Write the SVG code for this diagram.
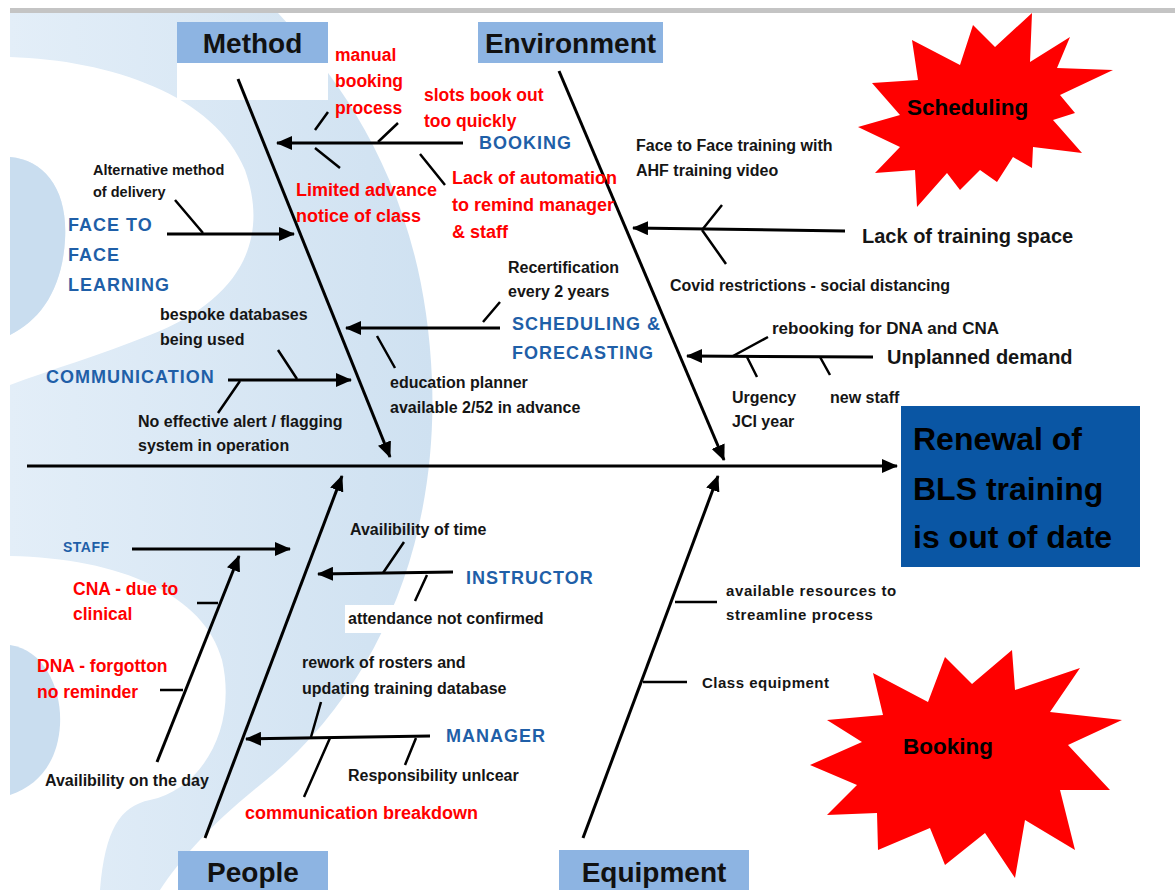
<svg xmlns="http://www.w3.org/2000/svg" width="1175" height="890" viewBox="0 0 1175 890">
<defs>
<style>
text{font-family:"Liberation Sans",Arial,sans-serif;font-weight:bold}
.cat{font-size:28px;fill:#111;text-anchor:middle}
.catbox{fill:#8db4e2}
.red{font-size:17.5px;fill:#ff0000}
.blue{font-size:18px;fill:#1f5fa8;letter-spacing:1px}
.blk{font-size:16px;fill:#151515}
.big{font-size:20px;fill:#151515}
.ln{stroke:#000;stroke-width:3;fill:none}
.tk{stroke:#000;stroke-width:2.5;fill:none}
.star{fill:#ff0000}
</style>
<linearGradient id="bg" gradientUnits="userSpaceOnUse" x1="10" y1="0" x2="432" y2="0">
<stop offset="0" stop-color="#e3eef8"/>
<stop offset="1" stop-color="#cfe1f1"/>
</linearGradient>
<marker id="ah" viewBox="0 0 16 14" refX="15" refY="7" markerWidth="16" markerHeight="14" orient="auto" markerUnits="userSpaceOnUse">
<path d="M0,0 L16,7 L0,14 Z" fill="#000"/>
</marker>
</defs>
<rect width="1175" height="890" fill="#fff"/>
<g id="background">
<rect x="10" y="8" width="1165" height="5" fill="#c4c4c4"/>
<path d="M10,13 H278 C350,90 425,200 432,380 C438,540 380,690 260,785 C210,825 180,860 160,890 H10 Z" fill="url(#bg)"/>
<path d="M10,57 C110,60 215,95 245,170 C270,240 240,300 150,335 C100,355 50,370 10,385 L10,335 C40,320 62,290 65,240 C68,190 45,160 10,157 Z" fill="#fff"/>
<path d="M10,157 C45,160 68,190 65,240 C62,290 40,320 10,335 Z" fill="#c9ddef"/>
<path d="M10,556 C120,558 205,595 222,660 C238,730 200,790 150,800 C120,806 105,830 100,890 L10,890 Z" fill="#fff"/>
<path d="M10,645 C45,650 62,690 60,725 C58,760 40,785 10,795 Z" fill="#c9ddef"/>
<rect x="177" y="63" width="151" height="37" fill="#fff"/>
<rect x="345" y="605" width="205" height="28" fill="#fff"/>
</g>
<g id="connectors">
<line class="ln" x1="27" y1="466" x2="897" y2="466" marker-end="url(#ah)"/>
<line class="ln" x1="238" y1="79" x2="390" y2="457" marker-end="url(#ah)"/>
<line class="ln" x1="559" y1="71" x2="724" y2="460" marker-end="url(#ah)"/>
<line class="ln" x1="205" y1="838" x2="342" y2="476" marker-end="url(#ah)"/>
<line class="ln" x1="583" y1="838" x2="718" y2="476" marker-end="url(#ah)"/>
<line class="ln" x1="463" y1="143" x2="277" y2="143" marker-end="url(#ah)"/>
<line class="ln" x1="167" y1="234" x2="294" y2="234" marker-end="url(#ah)"/>
<line class="ln" x1="500" y1="328" x2="346" y2="328" marker-end="url(#ah)"/>
<line class="ln" x1="228" y1="380" x2="351" y2="380" marker-end="url(#ah)"/>
<line class="ln" x1="845" y1="231" x2="633" y2="228" marker-end="url(#ah)"/>
<line class="ln" x1="873" y1="357" x2="687" y2="356" marker-end="url(#ah)"/>
<line class="ln" x1="132" y1="549" x2="290" y2="549" marker-end="url(#ah)"/>
<line class="ln" x1="157" y1="762" x2="239" y2="556" marker-end="url(#ah)"/>
<line class="ln" x1="453" y1="572" x2="318" y2="574" marker-end="url(#ah)"/>
<line class="ln" x1="430" y1="736" x2="246" y2="739" marker-end="url(#ah)"/>
<path class="tk" d="M315,130 L328,112 M315,148 L340,168 M378,142 L398,123 M420,154 L445,185 M175,200 L203,233 M483,322 L500,302 M377,336 L395,368 M278,350 L297,379 M240,381 L218,413 M702,230 L722,205 M702,230 L726,264 M733,356 L768,337 M747,357 L757,377 M820,357 L830,375 M197,603 L218,603 M160,690 L183,690 M383,573 L404,542 M427,575 L415,601 M311,737 L321,702 M330,738 L304,797 M416,738 L405,765 M675,602 L717,602 M643,682 L687,682"/>
</g>
<g id="cat-method"><rect class="catbox" x="177" y="22" width="151" height="41"/><text class="cat" x="252.5" y="53">Method</text></g>
<g id="cat-environment"><rect class="catbox" x="478" y="22" width="185" height="41"/><text class="cat" x="570.5" y="53">Environment</text></g>
<g id="cat-people"><rect class="catbox" x="178" y="851" width="150" height="39"/><text class="cat" x="253" y="882">People</text></g>
<g id="cat-equipment"><rect class="catbox" x="559" y="850" width="190" height="40"/><text class="cat" x="654" y="882">Equipment</text></g>
<g id="effect"><rect x="901" y="406" width="239" height="161" fill="#0a56a4"/>
<text x="913" y="450" font-size="32" fill="#000">Renewal of</text>
<text x="913" y="500" font-size="32" fill="#000">BLS training</text>
<text x="913" y="548" font-size="32" fill="#000">is out of date</text></g>
<g id="star-scheduling"><polygon class="star" points="912,40 960,65 973,25 995,47 1032,13 1030,62 1070,37 1057,68 1113,70 1060,95 1075,113 1053,120 1082,153 1033,147 1032,168 1013,157 997,182 980,170 960,190 947,173 917,207 915,170 875,173 900,147 858,127 900,115 872,83 918,80"/><text x="907" y="115" font-size="22.5" fill="#000">Scheduling</text></g>
<g id="star-booking"><polygon class="star" points="873,673 928,702 945,657 972,684 1012,650 1015,690 1080,668 1050,712 1122,720 1068,745 1110,790 1060,790 1075,850 1025,820 1015,878 985,833 945,865 930,828 878,850 877,813 827,815 857,785 810,765 862,742 827,720 883,715"/><text x="903" y="754" font-size="22.5" fill="#000">Booking</text></g>
<g id="booking">
<text class="blue" x="479" y="149">BOOKING</text>
<text class="red" x="335" y="61">manual</text><text class="red" x="335" y="87">booking</text><text class="red" x="335" y="114">process</text>
<text class="red" x="424" y="101" font-size="17">slots book out</text><text class="red" x="424" y="127" font-size="17">too quickly</text>
<text class="red" x="296" y="196" style="font-size:18px">Limited advance</text><text class="red" x="296" y="222" style="font-size:18px">notice of class</text>
<text class="red" x="452" y="184" style="font-size:18px">Lack of automation</text><text class="red" x="452" y="211" style="font-size:18px">to remind manager</text><text class="red" x="452" y="238" style="font-size:18px">&amp; staff</text>
</g>
<g id="face-to-face">
<text class="blue" x="68" y="231">FACE TO</text><text class="blue" x="68" y="261">FACE</text><text class="blue" x="68" y="291">LEARNING</text>
<text class="blk" x="93" y="175" style="font-size:14.5px">Alternative method</text><text class="blk" x="93" y="197" style="font-size:14.5px">of delivery</text>
</g>
<g id="scheduling-forecasting">
<text class="blue" x="512" y="330">SCHEDULING &amp;</text><text class="blue" x="512" y="359">FORECASTING</text>
<text class="blk" x="508" y="273">Recertification</text><text class="blk" x="508" y="297">every 2 years</text>
<text class="blk" x="390" y="388">education planner</text><text class="blk" x="390" y="413">available 2/52 in advance</text>
</g>
<g id="communication">
<text class="blue" x="46" y="383">COMMUNICATION</text>
<text class="blk" x="160" y="320">bespoke databases</text><text class="blk" x="160" y="345">being used</text>
<text class="blk" x="138" y="427">No effective alert / flagging</text><text class="blk" x="138" y="451">system in operation</text>
</g>
<g id="training-space">
<text class="big" x="862" y="243">Lack of training space</text>
<text class="blk" x="636" y="151">Face to Face training with</text><text class="blk" x="636" y="176">AHF training video</text>
<text class="blk" x="670" y="291">Covid restrictions - social distancing</text>
</g>
<g id="unplanned-demand">
<text class="big" x="887" y="364">Unplanned demand</text>
<text class="blk" x="772" y="334" style="font-size:17px">rebooking for DNA and CNA</text>
<text class="blk" x="732" y="403">Urgency</text><text class="blk" x="732" y="427">JCI year</text>
<text class="blk" x="830" y="403">new staff</text>
</g>
<g id="staff">
<text class="blue" x="63" y="552" style="font-size:14px;letter-spacing:0.5px">STAFF</text>
<text class="red" x="73" y="595">CNA - due to</text><text class="red" x="73" y="620">clinical</text>
<text class="red" x="37" y="672">DNA - forgotton</text><text class="red" x="37" y="698">no reminder</text>
<text class="blk" x="45" y="786">Availibility on the day</text>
</g>
<g id="instructor">
<text class="blue" x="466" y="584">INSTRUCTOR</text>
<text class="blk" x="350" y="535">Availibility of time</text>
<text class="blk" x="348" y="624">attendance not confirmed</text>
</g>
<g id="manager">
<text class="blue" x="446" y="742">MANAGER</text>
<text class="blk" x="302" y="668">rework of rosters and</text><text class="blk" x="302" y="694">updating training database</text>
<text class="blk" x="348" y="781">Responsibility unlcear</text>
<text class="red" x="245" y="819" style="font-size:18px">communication breakdown</text>
</g>
<g id="equipment">
<text class="blk" x="726" y="596" style="font-size:15px;letter-spacing:0.6px">available resources to</text><text class="blk" x="726" y="620" style="font-size:15px;letter-spacing:0.6px">streamline process</text>
<text class="blk" x="702" y="688" style="font-size:15px;letter-spacing:0.5px">Class equipment</text>
</g>
</svg>
